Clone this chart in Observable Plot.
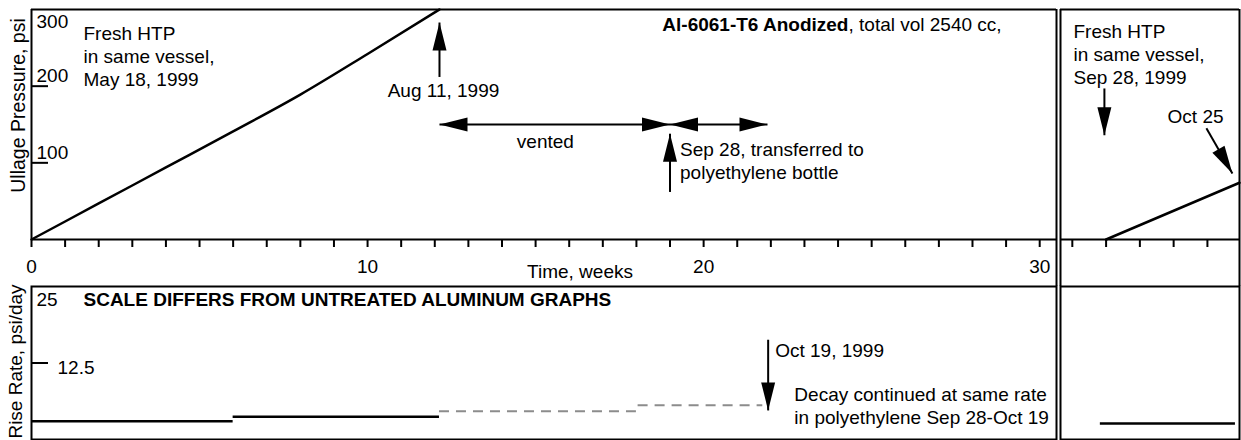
<!DOCTYPE html>
<html>
<head>
<meta charset="utf-8">
<script src="https://cdn.jsdelivr.net/npm/d3@7"></script>
<script src="https://cdn.jsdelivr.net/npm/@observablehq/plot@0.6"></script>
<style>
  html, body { margin: 0; padding: 0; background: #fff; }
  #chart { position: relative; width: 1241px; height: 440px; overflow: hidden; }
</style>
</head>
<body>
<div id="chart"></div>
<script>
// ---------------- data ----------------
// first fill (May 18, 1999), weeks since fill vs ullage pressure (psi)
const pressureWeeks = [0, 2, 4, 6, 8, 10, 12.14];
const pressurePsi   = [0, 47, 94, 141, 189, 242, 300];
// second fill (Sep 28, 1999) in the right-hand panel
const refillWeeks = [19, 22.95];
const refillPsi   = [0, 74];
// rise rate (psi/day) step segments
const rateFrom  = [0, 6];
const rateTo    = [6, 12.14];
const rateValue = [3.0, 3.72];
// decay (dashed gray) segments
const decayFrom  = [12.14, 18.05];
const decayTo    = [18, 21.76];
const decayValue = [4.6, 5.6];
// right panel rise rate
const refillRateFrom  = [18.83];
const refillRateTo    = [22.83];
const refillRateValue = [2.6];
// ticks
const weekTicks = d3.range(0, 31);
const weekLabels = [0, 10, 20, 30];
const rightWeekTicks = [18, 19, 20, 21, 22];
const pressureTicks = [100, 200];
const pressureTopLabel = [300];
const rateTicks = [12.5];
const rateTopLabel = [25];
// scale domains
const leftWeeks = [0, 30.5];
const rightWeeks = [17.65, 22.95];
const psiDomain = [0, 300];
const rateDomain = [0, 25];

// ---------------- layout (pixels) ----------------
const W = 1241, H = 440;
const FONT = '"Liberation Sans", Arial, Helvetica, sans-serif';
const L = 31, SPLIT_L = 1056, SPLIT_R = 1060, R = 1239;
const TOP = 9, AXIS = 239, MID = 286, BOT = 439;
const FS = 19;

// ---------------- annotations ----------------
const topLeftArrows = [
  {x1: 12.14, y1: 212, x2: 12.14, y2: 283},
  {x1: 12.14, y1: 150, x2: 19, y2: 150, both: true},
  {x1: 19, y1: 150, x2: 21.9, y2: 150, both: true},
  {x1: 19, y1: 62, x2: 19, y2: 138}
];
const topRightArrows = [
  {x1: 18.95, y1: 197, x2: 18.95, y2: 136},
  {x1: 21.97, y1: 145, x2: 22.74, y2: 86}
];
const bottomLeftArrows = [
  {x1: 21.92, y1: 16.3, x2: 21.92, y2: 4.75}
];

const headSymbol = {
  draw(ctx) { ctx.moveTo(0, 0); ctx.lineTo(-7, 28); ctx.lineTo(7, 28); ctx.closePath(); }
};

function heads(arrows, sx, sy) {
  const out = [];
  for (const a of arrows) {
    const dx = sx(a.x2) - sx(a.x1), dy = sy(a.y2) - sy(a.y1);
    const ang = Math.atan2(dx, -dy) * 180 / Math.PI;
    out.push({x: a.x2, y: a.y2, angle: ang});
    if (a.both) out.push({x: a.x1, y: a.y1, angle: ang + 180});
  }
  return out;
}
function arrowMarks(arrows, sx, sy) {
  return [
    Plot.link(arrows, {x1: "x1", y1: "y1", x2: "x2", y2: "y2", stroke: "black", strokeWidth: 2}),
    Plot.dot(heads(arrows, sx, sy), {x: "x", y: "y", rotate: "angle", symbol: headSymbol, fill: "black", stroke: "none"})
  ];
}

const sxLeft = d3.scaleLinear(leftWeeks, [L, SPLIT_L]);
const sxRight = d3.scaleLinear(rightWeeks, [SPLIT_R, R]);
const syTop = d3.scaleLinear(psiDomain, [AXIS, TOP]);
const syBot = d3.scaleLinear(rateDomain, [BOT, MID]);

const baseStyle = {position: "absolute", left: "0px", top: "0px", background: "transparent", fontFamily: FONT, overflow: "visible"};
const txt = (o) => ({fontSize: FS, fill: "black", ...o});

// ---------------- top-left panel ----------------
const topLeft = Plot.plot({
  width: W, height: H,
  marginLeft: L, marginRight: W - SPLIT_L, marginTop: TOP, marginBottom: H - MID,
  style: baseStyle,
  x: {domain: leftWeeks},
  y: {domain: psiDomain, range: [AXIS, TOP], axis: null},
  marks: [
    Plot.ruleY([psiDomain[1]], {strokeWidth: 2}),
    Plot.ruleX([leftWeeks[1]], {strokeWidth: 2}),
    Plot.ruleX([leftWeeks[0]], {y1: psiDomain[0], y2: psiDomain[1], strokeWidth: 2}),
    Plot.ruleY([0], {strokeWidth: 2}),
    Plot.axisX({ticks: weekTicks, tickSize: 8, tickPadding: 12, dy: AXIS - MID,
      tickFormat: d => weekLabels.includes(d) ? String(d) : "", fontSize: FS, strokeWidth: 2, label: null}),
    Plot.ruleY(pressureTicks, {x1: leftWeeks[0], x2: leftWeeks[0], insetRight: -17, strokeWidth: 2}),
    Plot.text(pressureTicks, txt({y: d => d, text: d => String(d), frameAnchor: "left", dx: 5, dy: -4, textAnchor: "start", lineAnchor: "bottom"})),
    Plot.text(pressureTopLabel, txt({y: d => d, text: d => String(d), frameAnchor: "left", dx: 5, dy: 5, textAnchor: "start", lineAnchor: "top"})),
    Plot.line(pressurePsi, {x: pressureWeeks, y: pressurePsi, stroke: "black", strokeWidth: 2.5, curve: "monotone-x"}),
    ...arrowMarks(topLeftArrows, sxLeft, syTop),
    Plot.text(["Ullage Pressure, psi"], txt({text: d => d, frameAnchor: "top-left", dx: -12.5, dy: 105 - TOP, rotate: -90, textAnchor: "middle", lineAnchor: "middle", fontSize: 19.5})),
    Plot.text(["Time, weeks"], txt({text: d => d, frameAnchor: "bottom", dx: 36, dy: -9, textAnchor: "middle", lineAnchor: "bottom"})),
    Plot.text(["Fresh HTP\nin same vessel,\nMay 18, 1999"], txt({text: d => d, frameAnchor: "top-left", dx: 52, dy: 85 - TOP, textAnchor: "start", lineAnchor: "bottom", lineHeight: 1.21})),
    Plot.text([{x: 12.14, y: 186, t: "Aug 11, 1999"}], txt({x: "x", y: "y", text: "t", dx: 4, textAnchor: "middle", lineAnchor: "bottom"})),
    Plot.text([{x: 15.29, y: 120, t: "vented"}], txt({x: "x", y: "y", text: "t", textAnchor: "middle", lineAnchor: "bottom"})),
    Plot.text([{x: 19, y: 79.5, t: "Sep 28, transferred to\npolyethylene bottle"}], txt({x: "x", y: "y", text: "t", dx: 10, textAnchor: "start", lineAnchor: "bottom", lineHeight: 1.21})),
    Plot.text([{x: 24.31, y: 272.5, t: "Al-6061-T6 Anodized"}], txt({x: "x", y: "y", text: "t", textAnchor: "end", lineAnchor: "bottom", fontWeight: "bold"})),
    Plot.text([{x: 24.31, y: 272.5, t: ", total vol 2540 cc,"}], txt({x: "x", y: "y", text: "t", textAnchor: "start", lineAnchor: "bottom"}))
  ]
});

// ---------------- top-right panel ----------------
const topRight = Plot.plot({
  width: W, height: H,
  marginLeft: SPLIT_R, marginRight: W - R, marginTop: TOP, marginBottom: H - MID,
  style: baseStyle,
  x: {domain: rightWeeks},
  y: {domain: psiDomain, range: [AXIS, TOP], axis: null},
  marks: [
    Plot.ruleY([psiDomain[1]], {strokeWidth: 2}),
    Plot.ruleX(rightWeeks, {strokeWidth: 2}),
    Plot.ruleY([0], {strokeWidth: 2}),
    Plot.axisX({ticks: rightWeekTicks, tickSize: 8, dy: AXIS - MID, tickFormat: () => "", strokeWidth: 2, label: null}),
    Plot.line(refillPsi, {x: refillWeeks, y: refillPsi, stroke: "black", strokeWidth: 2.5}),
    ...arrowMarks(topRightArrows, sxRight, syTop),
    Plot.text(["Fresh HTP\nin same vessel,\nSep 28, 1999"], txt({text: d => d, frameAnchor: "top-left", dx: 13, dy: 83 - TOP, textAnchor: "start", lineAnchor: "bottom", lineHeight: 1.21})),
    Plot.text([{x: 20.82, y: 152, t: "Oct 25"}], txt({x: "x", y: "y", text: "t", textAnchor: "start", lineAnchor: "bottom"}))
  ]
});

// ---------------- bottom-left panel ----------------
const bottomLeft = Plot.plot({
  width: W, height: H,
  marginLeft: L, marginRight: W - SPLIT_L, marginTop: MID, marginBottom: H - BOT,
  style: baseStyle,
  x: {domain: leftWeeks, axis: null},
  y: {domain: rateDomain, axis: null},
  marks: [
    Plot.frame({strokeWidth: 2}),
    Plot.ruleY(rateTicks, {x1: leftWeeks[0], x2: leftWeeks[0], insetRight: -17, strokeWidth: 2}),
    Plot.text(rateTicks, txt({y: d => d, text: d => String(d), frameAnchor: "left", dx: 26, dy: 11, textAnchor: "start", lineAnchor: "bottom"})),
    Plot.text(rateTopLabel, txt({y: d => d, text: d => String(d), frameAnchor: "left", dx: 5, dy: 19, textAnchor: "start", lineAnchor: "bottom"})),
    Plot.ruleY(rateValue, {y: d => d, x1: rateFrom, x2: rateTo, stroke: "black", strokeWidth: 2.5}),
    Plot.ruleY(decayValue, {y: d => d, x1: decayFrom, x2: decayTo, stroke: "#8c8c8c", strokeWidth: 2, strokeDasharray: "10,7"}),
    ...arrowMarks(bottomLeftArrows, sxLeft, syBot),
    Plot.text(["Rise Rate, psi/day"], txt({text: d => d, frameAnchor: "left", dx: -15.5, dy: -1.5, rotate: -90, textAnchor: "middle", lineAnchor: "middle", fontSize: 19})),
    Plot.text(["SCALE DIFFERS FROM UNTREATED ALUMINUM GRAPHS"], txt({text: d => d, frameAnchor: "top-left", dx: 52, dy: 19, textAnchor: "start", lineAnchor: "bottom", fontWeight: "bold"})),
    Plot.text([{x: 21.92, y: 13.4, t: "Oct 19, 1999"}], txt({x: "x", y: "y", text: "t", dx: 7, textAnchor: "start", lineAnchor: "bottom"})),
    Plot.text([{x: 22.7, y: 2.6, t: "Decay continued at same rate\nin polyethylene Sep 28-Oct 19"}], txt({x: "x", y: "y", text: "t", textAnchor: "start", lineAnchor: "bottom", lineHeight: 1.17}))
  ]
});

// ---------------- bottom-right panel ----------------
const bottomRight = Plot.plot({
  width: W, height: H,
  marginLeft: SPLIT_R, marginRight: W - R, marginTop: MID, marginBottom: H - BOT,
  style: baseStyle,
  x: {domain: rightWeeks, axis: null},
  y: {domain: rateDomain, axis: null},
  marks: [
    Plot.frame({strokeWidth: 2}),
    Plot.ruleY(refillRateValue, {y: d => d, x1: refillRateFrom, x2: refillRateTo, stroke: "black", strokeWidth: 2.5})
  ]
});

const chart = document.getElementById("chart");
for (const p of [topLeft, topRight, bottomLeft, bottomRight]) chart.appendChild(p);
</script>
</body>
</html>
